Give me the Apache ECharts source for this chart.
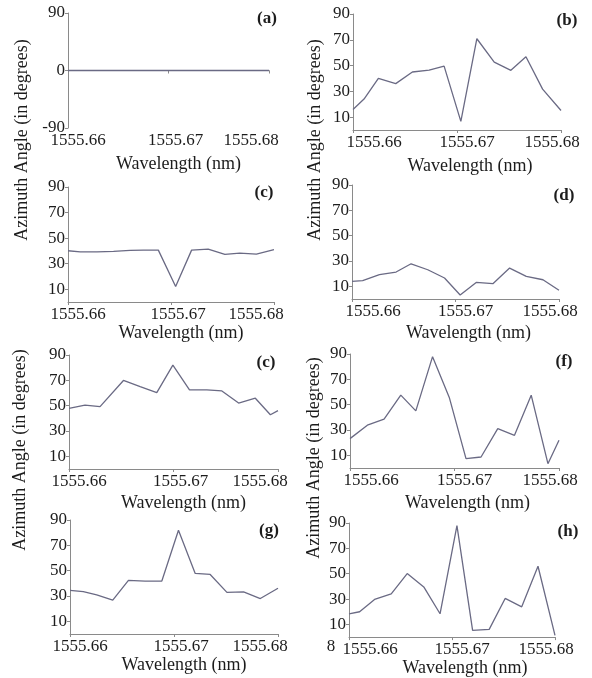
<!DOCTYPE html>
<html><head><meta charset="utf-8">
<script src="https://cdn.jsdelivr.net/npm/echarts@6/dist/echarts.min.js"></script>
<style>html,body{margin:0;padding:0;background:#fff}#c{width:592px;height:678px}</style>
</head><body><div id="c"></div><script>
// ---- data ----
const xTicks = [1555.66, 1555.67, 1555.68];
const yTicksA = [-90, 0, 90];
const yTicks = [10, 30, 50, 70, 90];
const panelLabels = ['(a)', '(b)', '(c)', '(d)', '(c)', '(f)', '(g)', '(h)'];
const xName = 'Wavelength (nm)';
const yName = 'Azimuth Angle (in degrees)';

const wlA = [1555.66, 1555.68];
const azA = [0, 0];
const wlB = [1555.66, 1555.66106, 1555.66244, 1555.66411, 1555.66571, 1555.66732, 1555.66876, 1555.67037, 1555.67191, 1555.67358, 1555.67518, 1555.67663, 1555.67823, 1555.68];
const azB = [15.9, 24, 40, 36, 45, 46.5, 49.6, 6.7, 70.8, 52.7, 46.3, 56.8, 31.7, 15.1];
const wlC = [1555.66, 1555.66119, 1555.66281, 1555.66442, 1555.66603, 1555.66732, 1555.66877, 1555.67045, 1555.672, 1555.67361, 1555.67523, 1555.67668, 1555.67829, 1555.68];
const azC = [40.1, 39.3, 39.3, 39.6, 40.4, 40.6, 40.6, 12.1, 40.6, 41.4, 37.3, 38.3, 37.5, 40.9];
const wlD = [1555.66, 1555.66103, 1555.66265, 1555.66426, 1555.66571, 1555.66732, 1555.66894, 1555.67045, 1555.672, 1555.67361, 1555.67523, 1555.67684, 1555.67845, 1555.68];
const azD = [13.9, 14.5, 19.2, 21.3, 27.8, 23.1, 16.6, 3.2, 13.1, 12.1, 24.4, 17.9, 15.2, 6.9];
const wlE = [1555.66, 1555.66153, 1555.66297, 1555.66521, 1555.66681, 1555.6684, 1555.66994, 1555.67153, 1555.67319, 1555.67463, 1555.67623, 1555.67783, 1555.67927, 1555.68];
const azE = [47.9, 50.5, 49.2, 69.9, 65, 60.3, 82, 62.4, 62.4, 61.6, 52.1, 55.9, 42.8, 46.1];
const wlF = [1555.66, 1555.66166, 1555.66326, 1555.66486, 1555.6663, 1555.6679, 1555.6695, 1555.6711, 1555.67254, 1555.67414, 1555.67574, 1555.67734, 1555.67894, 1555.68];
const azF = [23.2, 33.8, 38.5, 57.5, 45.1, 87.9, 55.7, 7.4, 8.7, 31.1, 25.8, 57.5, 3.4, 21.9];
const wlG = [1555.66, 1555.66128, 1555.66257, 1555.66411, 1555.66562, 1555.66722, 1555.66883, 1555.67043, 1555.67204, 1555.67348, 1555.67509, 1555.67669, 1555.6783, 1555.68];
const azG = [34.5, 33.5, 30.8, 26.7, 42.3, 41.8, 41.8, 81.9, 47.8, 47, 32.9, 33.2, 28, 36.1];
const wlH = [1555.66, 1555.66103, 1555.66248, 1555.6641, 1555.66565, 1555.66726, 1555.66884, 1555.67048, 1555.672, 1555.67361, 1555.67516, 1555.67677, 1555.67835, 1555.68];
const azH = [18.4, 20, 29.7, 34.1, 50.1, 39.6, 18.4, 87.9, 5.3, 6.1, 30.5, 23.9, 55.9, 1.3];

const wls = [wlA, wlB, wlC, wlD, wlE, wlF, wlG, wlH];
const azs = [azA, azB, azC, azD, azE, azF, azG, azH];

// ---- layout / style ----
const FONT = 'Liberation Serif';
const TXT = '#1c1c1c';
const AXIS = '#8a8a8a';
const LINE = '#6a6a84';
const layout = [
  {l: 68,  t: 13,  w: 201, h: 115, col: 0, gap: 27, lab: [267, 19]},
  {l: 353, t: 14,  w: 208, h: 116, col: 1, gap: 27, lab: [567, 21]},
  {l: 68,  t: 187, w: 206, h: 115, col: 0, gap: 20, lab: [264, 193]},
  {l: 352, t: 185, w: 207, h: 114, col: 1, gap: 25, lab: [564, 196]},
  {l: 69,  t: 355, w: 209, h: 114, col: 0, gap: 25, lab: [266, 363]},
  {l: 350, t: 354, w: 209, h: 114, col: 1, gap: 26, lab: [564, 362]},
  {l: 70,  t: 520, w: 208, h: 114, col: 0, gap: 21, lab: [269, 531]},
  {l: 349, t: 523, w: 206, h: 115, col: 1, gap: 19, lab: [568, 532]}
];
const labShift = [[10, 7, -18], [21, 10, -9]];
const nameShift = [10, 13];

function richFor(col) {
  const r = {};
  labShift[col].forEach((s, i) => {
    r['p' + i] = {
      fontFamily: FONT, fontSize: 17, color: TXT,
      padding: s >= 0 ? [0, 0, 0, 2 * s] : [0, -2 * s, 0, 0]
    };
  });
  return r;
}

const grids = [], xAxes = [], yAxes = [], series = [], graphics = [];
layout.forEach((p, i) => {
  grids.push({left: p.l, top: p.t, width: p.w, height: p.h, containLabel: false});
  xAxes.push({
    type: 'value', gridIndex: i, min: xTicks[0], max: xTicks[2],
    name: xName, nameLocation: 'middle', nameGap: p.gap,
    nameTextStyle: {fontFamily: FONT, fontSize: 18, color: TXT, padding: [0, 0, 0, 2 * nameShift[p.col]]},
    axisLine: {show: true, lineStyle: {color: AXIS, width: 1}},
    axisTick: {show: true, customValues: xTicks, length: 3, lineStyle: {color: AXIS}},
    splitLine: {show: false},
    axisLabel: {
      customValues: xTicks, margin: 4, fontFamily: FONT, fontSize: 17, color: TXT,
      formatter: v => {
        let k = 0, best = 1e9;
        xTicks.forEach((t, j) => { const d = Math.abs(t - v); if (d < best) { best = d; k = j; } });
        return '{p' + k + '|' + xTicks[k].toFixed(2) + '}';
      },
      rich: richFor(p.col)
    }
  });
  const yt = i === 0 ? yTicksA : yTicks;
  yAxes.push({
    type: 'value', gridIndex: i, min: i === 0 ? -90 : 0, max: 90,
    axisLine: {show: true, lineStyle: {color: AXIS, width: 1}},
    axisTick: {show: true, customValues: yt, length: 3, lineStyle: {color: AXIS}},
    splitLine: {show: false},
    axisLabel: {customValues: yt, margin: 3, fontFamily: FONT, fontSize: 17, color: TXT}
  });
  series.push({
    type: 'line', xAxisIndex: i, yAxisIndex: i, symbol: 'none', showSymbol: false,
    lineStyle: {color: LINE, width: 1.3},
    data: wls[i].map((w, j) => [w, azs[i][j]])
  });
  graphics.push({
    type: 'text', x: p.lab[0], y: p.lab[1],
    style: {text: panelLabels[i], fontFamily: FONT, fontSize: 17, fontWeight: 'bold', fill: TXT, align: 'center', verticalAlign: 'middle'}
  });
});

[[22, 140], [20, 450], [315, 140], [314, 458]].forEach(pt => {
  graphics.push({
    type: 'text', x: pt[0], y: pt[1], rotation: Math.PI / 2,
    style: {text: yName, fontFamily: FONT, fontSize: 18, fill: TXT, align: 'center', verticalAlign: 'middle'}
  });
});
graphics.push({type: 'text', x: 331, y: 647,
  style: {text: '8', fontFamily: FONT, fontSize: 17, fill: TXT, align: 'center', verticalAlign: 'middle'}});

const chart = echarts.init(document.getElementById('c'), null, {renderer: 'canvas'});
chart.setOption({
  animation: false,
  backgroundColor: '#fff',
  grid: grids, xAxis: xAxes, yAxis: yAxes, series: series, graphic: graphics
});
</script></body></html>
